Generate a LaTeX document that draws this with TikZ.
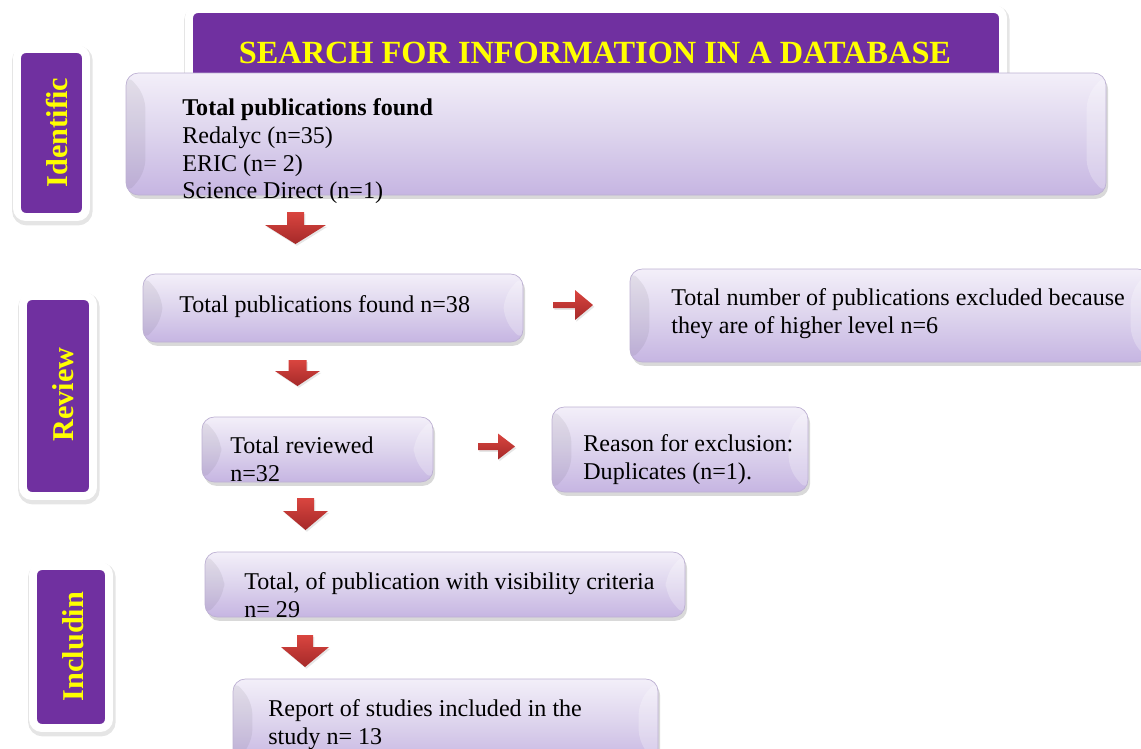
\documentclass[tikz,border=0pt]{standalone}
\usepackage{fontspec}
\setmainfont{Liberation Serif}
\usetikzlibrary{fit,shadows}

\definecolor{hdrpurple}{HTML}{7030A0}
\definecolor{hdryellow}{HTML}{FFFF00}
\definecolor{boxtop}{HTML}{F3EFF9}
\definecolor{boxmid}{HTML}{DDD4ED}
\definecolor{boxbot}{HTML}{C6B5E2}
\definecolor{boxline}{HTML}{BDB1D3}
\definecolor{arrowtop}{HTML}{D9453F}
\definecolor{arrowbot}{HTML}{A52929}

\tikzset{
  bevel/.style={path picture={
    \fill[black, opacity=0.06] (path picture bounding box.north west) -- ([xshift=11pt,yshift=-13pt]path picture bounding box.north west) -- ([xshift=11pt,yshift=13pt]path picture bounding box.south west) -- (path picture bounding box.south west) -- cycle;
    \fill[white, opacity=0.25] (path picture bounding box.north east) -- ([xshift=-11pt,yshift=-13pt]path picture bounding box.north east) -- ([xshift=-11pt,yshift=13pt]path picture bounding box.south east) -- (path picture bounding box.south east) -- cycle;
  }},
  stepbox/.style={rounded corners=7pt, draw=boxline, line width=0.4pt, top color=boxtop, bottom color=boxbot, middle color=boxmid, inner sep=0pt, drop shadow={opacity=0.3, shadow xshift=1.2pt, shadow yshift=-2.2pt}, bevel},
  labelbox/.style={rounded corners=5pt, fill=hdrpurple, draw=white, line width=4.5pt, inner sep=0pt, drop shadow={opacity=0.1, shadow xshift=0.5pt, shadow yshift=-1.5pt, draw=black, line width=6.5pt}},
  boxtext/.style={inner sep=0pt, align=left, font=\fontsize{13.7}{15.75}\selectfont},
  headtext/.style={inner sep=0pt, text=hdryellow, font=\bfseries\fontsize{18.4}{22}\selectfont},
  stagetext/.style={inner sep=0pt, rotate=90, text=hdryellow, font=\bfseries\fontsize{17.2}{20}\selectfont},
  redblock/.style={top color=arrowtop, bottom color=arrowbot, drop shadow={opacity=0.2, shadow xshift=0.8pt, shadow yshift=-1pt}}
}

% x, top, head start, tip, shaft half width, head half width
\newcommand{\downblock}[6]{\path[redblock] ({#1-#5},#2) -- ({#1+#5},#2) -- ({#1+#5},#3) -- ({#1+#6},#3) -- (#1,#4) -- ({#1-#6},#3) -- ({#1-#5},#3) -- cycle;}
% y, start, head start, tip, shaft half width, head half width
\newcommand{\rightblock}[6]{\path[redblock] (#2,{#1-#5}) -- (#3,{#1-#5}) -- (#3,{#1-#6}) -- (#4,#1) -- (#3,{#1+#6}) -- (#3,{#1+#5}) -- (#2,{#1+#5}) -- cycle;}

\begin{document}
\begin{tikzpicture}[x=0.02cm, y=-0.02cm]
  %%%%% START %%%%%
  \useasboundingbox (0,0) rectangle (1141,748);

  \node[labelbox, fit={(189,9) (1003,84)}] (head) {};
  \node[headtext, anchor=base] (headtxt) at (595,63) {SEARCH FOR INFORMATION IN A DATABASE};

  \node[labelbox, fit={(17,49) (86,217)}] (identbox) {};
  \node[stagetext] (identtxt) at (57.5,132.5) {Identific};
  \node[labelbox, fit={(23,296) (93,496)}] (reviewbox) {};
  \node[stagetext] (reviewtxt) at (63,394.5) {Review};
  \node[labelbox, fit={(33,566) (109,728)}] (inclbox) {};
  \node[stagetext] (incltxt) at (73,646.5) {Includin};

  \node[stepbox, fit={(126,73) (1106,195)}] (found) {};
  \node[boxtext, anchor=north west] (foundtxt) at (182,98.5) {\textbf{Total publications found}\\Redalyc (n=35)\\ERIC (n= 2)\\Science Direct (n=1)};

  \downblock{295.5}{212}{225}{244}{8.5}{30.5}

  \node[stepbox, fit={(143,274) (523,342)}] (total) {};
  \node[boxtext, anchor=north west] (totaltxt) at (179,295.5) {Total publications found n=38};

  \rightblock{305}{553}{575}{593}{3}{15}

  \node[stepbox, fit={(630,269) (1150,362)}] (higher) {};
  \node[boxtext, anchor=north west] (highertxt) at (671,288.5) {Total number of publications excluded because\\they are of higher level n=6};

  \downblock{297.5}{360}{371}{386}{9}{22.5}

  \node[stepbox, fit={(202,417) (433,482)}] (reviewed) {};
  \node[boxtext, anchor=north west] (reviewedtxt) at (230,436.5) {Total reviewed\\n=32};

  \rightblock{446.5}{478}{498}{515}{3.5}{13}

  \node[stepbox, fit={(552,407) (808,492)}] (dupl) {};
  \node[boxtext, anchor=north west] (dupltxt) at (583,434.5) {Reason for exclusion:\\Duplicates (n=1).};

  \downblock{305.5}{498}{511}{530}{8.5}{22.5}

  \node[stepbox, fit={(205,552) (685,617)}] (visible) {};
  \node[boxtext, anchor=north west] (visibletxt) at (244,572.5) {Total, of publication with visibility criteria\\n= 29};

  \downblock{305}{635}{647}{667}{8}{24}

  \node[stepbox, fit={(233,679) (658,765)}] (report) {};
  \node[boxtext, anchor=north west] (reporttxt) at (268,699.5) {Report of studies included in the\\study n= 13};

  %%%%% END %%%%%
\end{tikzpicture}
\end{document}
